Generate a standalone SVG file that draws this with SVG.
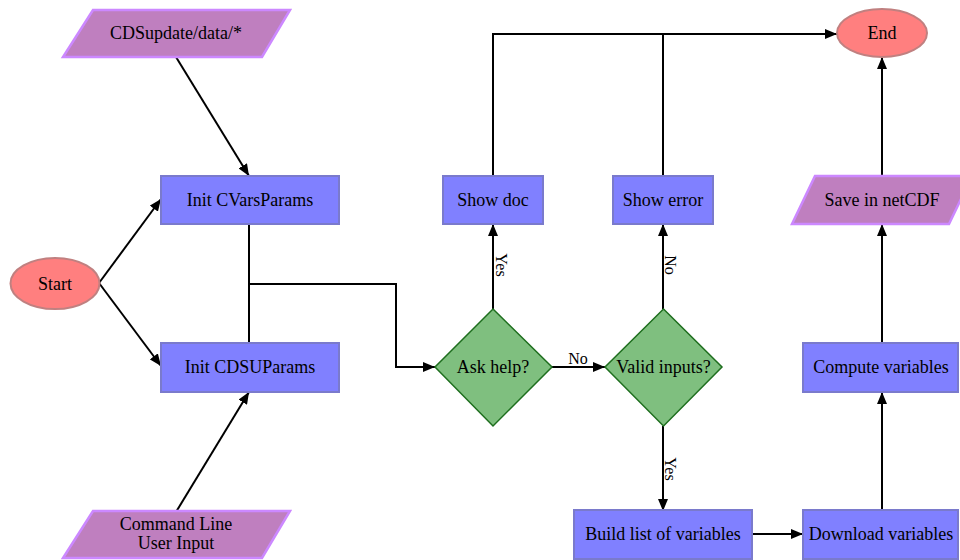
<svg xmlns="http://www.w3.org/2000/svg" width="960" height="560" viewBox="0 0 960 560" font-family="'Liberation Serif', 'Times New Roman', Times, serif">
<defs>
<style>
text{font-family:'Liberation Serif','Times New Roman',Times,serif;font-size:18px;fill:#000;text-anchor:middle;dominant-baseline:central}
text.lbl{font-size:16px}
.proc{fill:#8080ff;stroke:#7a7acc;stroke-width:2}
.io{fill:#bf7fbf;stroke:#cc88ff;stroke-width:2.5}
.term{fill:#ff7f7f;stroke:#c08080;stroke-width:2}
.dec{fill:#7fbf7f;stroke:#1e6e1e;stroke-width:1.5}
.edge{fill:none;stroke:#000;stroke-width:2}
</style>
<marker id="arr" viewBox="0 0 12 10" refX="12" refY="5" markerWidth="12" markerHeight="10" markerUnits="userSpaceOnUse" orient="auto">
<path d="M0,0 L12,5 L0,10 z" fill="#000"/>
</marker>
</defs>
<rect width="960" height="560" fill="#fff"/>
<g id="connectors">
<path class="edge" d="M99,283 L161,199" marker-end="url(#arr)"/>
<path class="edge" d="M99,283 L161,366" marker-end="url(#arr)"/>
<path class="edge" d="M176,57 L249,176" marker-end="url(#arr)"/>
<path class="edge" d="M176,512 L249,392" marker-end="url(#arr)"/>
<path class="edge" d="M249,224 L249,343"/>
<path class="edge" d="M249,284 L396,284 L396,367 L435,367" marker-end="url(#arr)"/>
<path class="edge" d="M493,309 L493,224" marker-end="url(#arr)"/>
<path class="edge" d="M552,367 L605,367" marker-end="url(#arr)"/>
<path class="edge" d="M663,309 L663,224" marker-end="url(#arr)"/>
<path class="edge" d="M663,426 L663,511" marker-end="url(#arr)"/>
<path class="edge" d="M493,176 L493,34 L837,34" marker-end="url(#arr)"/>
<path class="edge" d="M663,176 L663,34"/>
<path class="edge" d="M752,534 L803,534" marker-end="url(#arr)"/>
<path class="edge" d="M882,510 L882,392" marker-end="url(#arr)"/>
<path class="edge" d="M882,343 L882,224" marker-end="url(#arr)"/>
<path class="edge" d="M882,176 L882,57" marker-end="url(#arr)"/>
<text class="lbl" transform="translate(501,265) rotate(90)">Yes</text>
<text class="lbl" transform="translate(670,265) rotate(90)">No</text>
<text class="lbl" transform="translate(670,469) rotate(90)">Yes</text>
<text class="lbl" x="578" y="358">No</text>
</g>
<g id="cdsupdate">
<polygon class="io" points="93,10 290,10 262,57 63,57"/>
<text x="176" y="33">CDSupdate/data/*</text>
</g>
<g id="start">
<ellipse class="term" cx="55" cy="283.5" rx="44.5" ry="25.5"/>
<text x="55" y="283.5">Start</text>
</g>
<g id="initcvars">
<rect class="proc" x="161" y="176" width="178" height="48"/>
<text x="250" y="200">Init CVarsParams</text>
</g>
<g id="initcdsu">
<rect class="proc" x="161" y="343" width="178" height="49"/>
<text x="250" y="366.5">Init CDSUParams</text>
</g>
<g id="cmdline">
<polygon class="io" points="93,511 290,511 262,558 63,558"/>
<text x="176" y="524">Command Line</text>
<text x="176" y="543">User Input</text>
</g>
<g id="askhelp">
<polygon class="dec" points="493,309 552,367 493,426 435,367"/>
<text x="493" y="367">Ask help?</text>
</g>
<g id="validinputs">
<polygon class="dec" points="663.5,309 722,367 663.5,426 605,367"/>
<text x="663.5" y="367">Valid inputs?</text>
</g>
<g id="showdoc">
<rect class="proc" x="443" y="176" width="100" height="48"/>
<text x="493" y="200">Show doc</text>
</g>
<g id="showerror">
<rect class="proc" x="613" y="176" width="100" height="48"/>
<text x="663" y="200">Show error</text>
</g>
<g id="buildlist">
<rect class="proc" x="574" y="510" width="178" height="49"/>
<text x="663" y="534">Build list of variables</text>
</g>
<g id="download">
<rect class="proc" x="803" y="510" width="155" height="49"/>
<text x="881" y="534">Download variables</text>
</g>
<g id="compute">
<rect class="proc" x="803" y="343" width="155" height="49"/>
<text x="881" y="367">Compute variables</text>
</g>
<g id="save">
<polygon class="io" points="815,176 972,176 949,224 792,224"/>
<text x="882" y="200">Save in netCDF</text>
</g>
<g id="end">
<ellipse class="term" cx="882" cy="33" rx="45" ry="24"/>
<text x="882" y="33">End</text>
</g>
</svg>
